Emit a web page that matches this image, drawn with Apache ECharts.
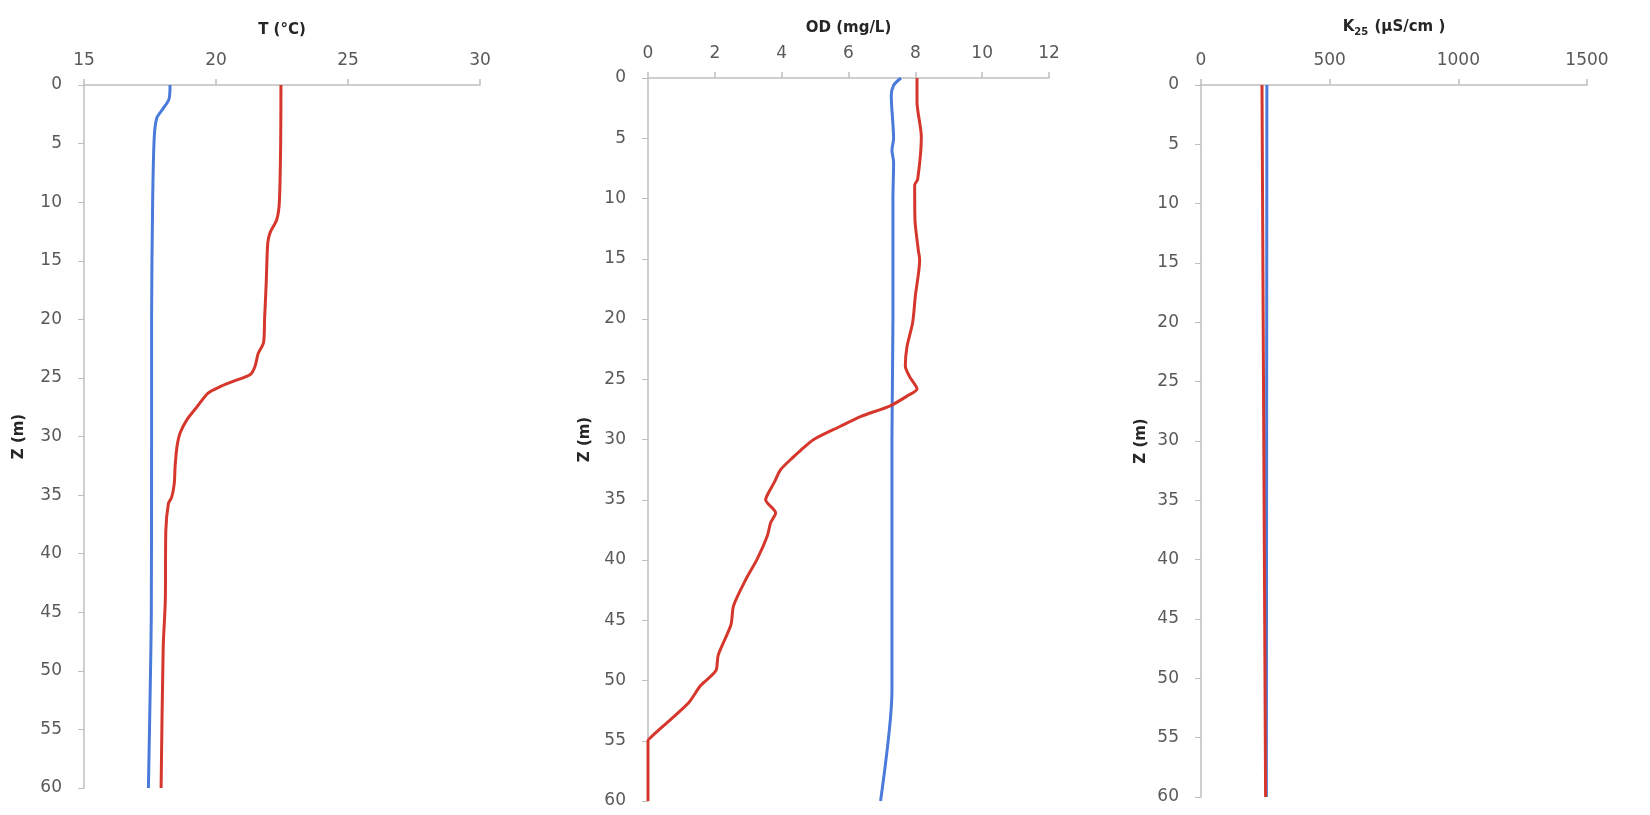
<!DOCTYPE html>
<html>
<head>
<meta charset="utf-8">
<script src="https://cdn.jsdelivr.net/npm/echarts@6/dist/echarts.min.js"></script>
<style>
  html, body { margin: 0; padding: 0; background: #ffffff; }
  #chart { width: 1650px; height: 815px; }
</style>
</head>
<body>
<div id="chart"></div>
<script>
// Depth profiles (Z in metres), two campaigns per variable: blue and red.

// Temperature T (°C)
const tDepthBlue = [0, 1.2, 2.0, 2.8, 4.5, 10, 20, 30, 45, 50, 60];
const tBlue      = [18.26, 18.22, 18.0, 17.76, 17.66, 17.6, 17.56, 17.56, 17.55, 17.52, 17.44];
const tDepthRed  = [0, 5, 10, 11.5, 12.6, 13.5, 17, 20, 22, 22.9, 24, 24.7, 25.3, 25.7, 26.3, 27.5, 28.6, 29.7, 30.9, 32.6, 34, 35.2, 35.7, 38, 44, 48, 60];
const tRed       = [22.46, 22.45, 22.4, 22.3, 22.05, 21.96, 21.9, 21.84, 21.8, 21.6, 21.48, 21.3, 20.65, 20.2, 19.7, 19.27, 18.89, 18.64, 18.52, 18.45, 18.42, 18.32, 18.2, 18.1, 18.08, 18.0, 17.92];

// Dissolved oxygen OD (mg/L)
const odDepthBlue = [0, 0.6, 1.5, 5, 6, 7, 10, 15, 20, 30, 40, 50.9, 60];
const odBlue      = [7.57, 7.35, 7.28, 7.35, 7.3, 7.35, 7.33, 7.33, 7.33, 7.3, 7.3, 7.3, 6.96];
const odDepthRed  = [0, 2, 4.9, 8.4, 8.9, 11.8, 14.3, 15.1, 18.1, 20.3, 22.3, 23.9, 24.8, 25.8, 26.4, 27.2, 28.1, 28.9, 30, 30.9, 31.4, 32.5, 33.6, 34.4, 35, 36.1, 36.9, 38, 39.9, 41.6, 43.8, 45.4, 47.9, 49.2, 50.4, 51.8, 53.2, 54.7, 55, 60];
const odRed       = [8.05, 8.05, 8.18, 8.07, 7.98, 7.99, 8.09, 8.13, 8.0, 7.92, 7.75, 7.7, 7.83, 8.05, 7.75, 7.25, 6.36, 5.76, 4.96, 4.57, 4.37, 3.97, 3.77, 3.61, 3.52, 3.82, 3.67, 3.57, 3.27, 2.93, 2.56, 2.48, 2.1, 2.03, 1.58, 1.23, 0.69, 0.09, 0, 0];

// Conductivity K25 (µS/cm)
const kDepthBlue = [0, 30, 60];
const kBlue      = [256, 255, 254];
const kDepthRed  = [0, 30, 60];
const kRed       = [237, 244, 251];

// Axis ranges
const depthRange = { min: 0, max: 60, interval: 5 };
const tRange  = { min: 15, max: 30, interval: 5 };
const odRange = { min: 0, max: 12, interval: 2 };
const kRange  = { min: 0, max: 1500, interval: 500 };

const BLUE = '#4a7bdb';
const RED = '#d6372c';
const AXIS_GREY = '#bfbfbf';
const LABEL_GREY = '#595959';
const FONT = 'DejaVu Sans';

const pairs = (xs, zs) => xs.map((v, i) => [v, zs[i]]);
const plain = (v) => String(v);

function xAxisFor(gridIndex, range, name, gap, rich) {
  return {
    type: 'value', gridIndex, position: 'top',
    min: range.min, max: range.max, interval: range.interval,
    name, nameLocation: 'middle', nameGap: gap,
    nameTextStyle: Object.assign({ fontFamily: FONT, fontWeight: 'bold', fontSize: 15, color: '#262626' }, rich ? { rich } : {}),
    axisLine: { show: true, lineStyle: { color: AXIS_GREY, width: 1.5 } },
    axisTick: { show: true, length: 6, lineStyle: { color: AXIS_GREY, width: 1.5 } },
    axisLabel: { margin: 16, fontFamily: FONT, fontSize: 17, color: LABEL_GREY, formatter: plain },
    splitLine: { show: false }
  };
}

function yAxisFor(gridIndex, gap) {
  return {
    type: 'value', gridIndex, inverse: true,
    min: depthRange.min, max: depthRange.max, interval: depthRange.interval,
    name: 'Z (m)', nameLocation: 'middle', nameGap: gap, nameRotate: 90,
    nameTextStyle: { fontFamily: FONT, fontWeight: 'bold', fontSize: 15, color: '#262626' },
    axisLine: { show: true, lineStyle: { color: AXIS_GREY, width: 1.5 } },
    axisTick: { show: true, length: 6, lineStyle: { color: AXIS_GREY, width: 1 } },
    axisLabel: { margin: 22, fontFamily: FONT, fontSize: 17, color: LABEL_GREY, formatter: plain },
    splitLine: { show: false }
  };
}

function profile(idx, data, color) {
  return {
    type: 'line', xAxisIndex: idx, yAxisIndex: idx,
    data, showSymbol: false, symbol: 'none', smooth: 0.25,
    lineStyle: { color, width: 3 },
    silent: true
  };
}

const chart = echarts.init(document.getElementById('chart'), null, { renderer: 'canvas' });

chart.setOption({
  backgroundColor: '#ffffff',
  animation: false,
  grid: [
    { left: 84, top: 85, width: 396, height: 703 },
    { left: 648, top: 78, width: 401, height: 723 },
    { left: 1201, top: 85, width: 386, height: 712 }
  ],
  xAxis: [
    xAxisFor(0, tRange, 'T (°C)', 47),
    xAxisFor(1, odRange, 'OD (mg/L)', 42),
    xAxisFor(2, kRange, '{b|K}{s|25}{b| (µS/cm )}', 48, {
      b: { fontFamily: FONT, fontWeight: 'bold', fontSize: 15, color: '#262626', verticalAlign: 'middle', lineHeight: 20 },
      s: { fontFamily: FONT, fontWeight: 'bold', fontSize: 10, color: '#262626', verticalAlign: 'bottom', lineHeight: 20, padding: [0, 1, 0, 0] }
    })
  ],
  yAxis: [
    yAxisFor(0, 57),
    yAxisFor(1, 55),
    yAxisFor(2, 52)
  ],
  series: [
    profile(0, pairs(tBlue, tDepthBlue), BLUE),
    profile(0, pairs(tRed, tDepthRed), RED),
    profile(1, pairs(odBlue, odDepthBlue), BLUE),
    profile(1, pairs(odRed, odDepthRed), RED),
    profile(2, pairs(kBlue, kDepthBlue), BLUE),
    profile(2, pairs(kRed, kDepthRed), RED)
  ]
});
</script>
</body>
</html>
